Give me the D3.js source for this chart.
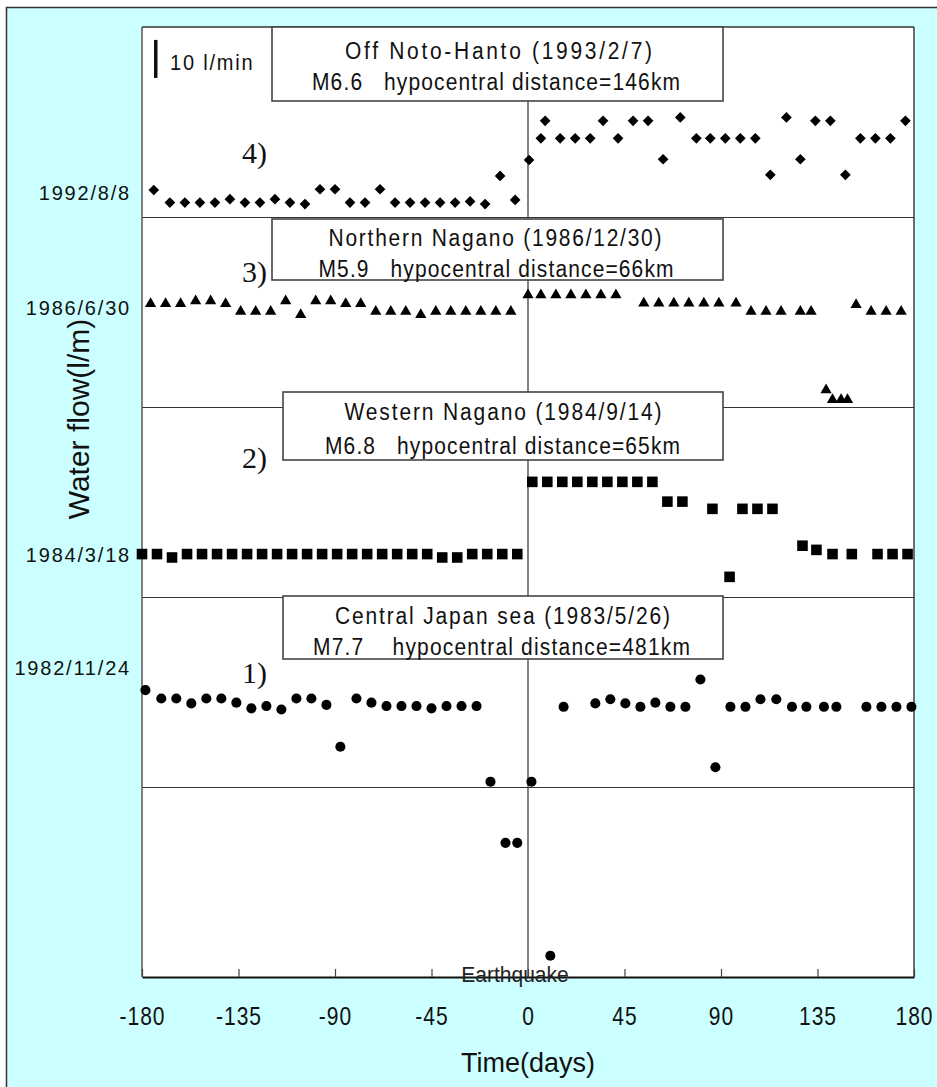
<!DOCTYPE html>
<html><head><meta charset="utf-8">
<script src="https://cdn.jsdelivr.net/npm/d3@7"></script>
<style>body{margin:0;background:#fff} svg{display:block}</style>
</head><body><svg id="c" width="937" height="1087"></svg>
<script>
// ---------- data ----------
const xTicks = [-180, -135, -90, -45, 0, 45, 90, 135, 180];
const gridValues = [50, 100, 150, 200];
const dateLabels = ["1992/8/8", "1986/6/30", "1984/3/18", "1982/11/24"];
const dateLevels = [206.4, 176.3, 111.3, 81.4];
const panelNames = ["4)", "3)", "2)", "1)"];
const quakeTitles = ["Off Noto-Hanto (1993/2/7)", "Northern Nagano (1986/12/30)", "Western Nagano (1984/9/14)", "Central Japan sea (1983/5/26)"];
const quakeDetails = ["M6.6   hypocentral distance=146km", "M5.9   hypocentral distance=66km", "M6.8   hypocentral distance=65km", "M7.7    hypocentral distance=481km"];
const scaleBarValue = 10;
const scaleBarTop = 246.6;

// 4) Off Noto-Hanto (diamonds)
const days4 = [-174.5,-167,-160,-153,-146,-139,-132,-125,-118,-111,-104,-97,-90,-83,-76,-69,-62,-55,-48,-41,-34,-27,-20,-13,-6,
  0.5,6,8,15,22,29,35,42,49,56,63,71,78.5,85,92,99,106,113,120.5,127,134,141,148,155,162,169,176];
const flow4 = [207.1,203.8,203.8,203.8,203.8,204.7,203.8,203.8,204.7,203.8,203.4,207.3,207.3,203.8,203.8,207.3,203.8,203.8,203.8,203.8,203.8,204.1,203.4,210.8,204.5,
  215.0,220.7,225.3,220.7,220.7,220.7,225.3,220.7,225.3,225.3,215.2,226.2,220.7,220.7,220.7,220.7,220.7,211.1,226.2,215.2,225.3,225.3,211.1,220.7,220.7,220.7,225.3];

// 3) Northern Nagano (triangles)
const days3 = [-176,-169,-162,-155,-148,-141,-134,-127,-120,-113,-106,-99,-92,-85,-78,-71,-64,-57,-50,-43,-36,-29,-22,-15,-8,
  0,6,13,20,27,34,41,54,61,68,75,82,89,97,104,111,118,127,132,139,142,146,149,153,160,167,174];
const flow3 = [177.2,177.2,177.2,177.9,177.9,177.2,175.1,175.1,175.1,177.9,174.3,177.9,177.9,177.2,177.2,175.1,175.1,175.1,174.3,175.1,175.1,175.1,175.1,175.1,175.1,
  179.5,179.5,179.5,179.5,179.5,179.5,179.5,177.3,177.3,177.3,177.3,177.3,177.3,177.3,175.1,175.1,175.1,175.1,175.1,154.5,151.9,151.9,151.9,176.9,175.1,175.1,175.1];

// 2) Western Nagano (squares)
const days2 = [-180,-173,-166,-159,-152,-145,-138,-131,-124,-117,-110,-103,-96,-89,-82,-75,-68,-61,-54,-47,-40,-33,-26,-19,-12,-5,
  2,9,16,23,30,37,44,51,58,65,72,86,94,100,107,114,128,134.5,142,151,163,170,177];
const flow2 = [111.3,111.3,110.4,111.3,111.3,111.3,111.3,111.3,111.3,111.3,111.3,111.3,111.3,111.3,111.3,111.3,111.3,111.3,111.3,111.3,110.4,110.4,111.3,111.3,111.3,111.3,
  130.3,130.3,130.3,130.3,130.3,130.3,130.3,130.3,130.3,125.1,125.1,123.2,105.3,123.2,123.2,123.2,113.5,112.4,111.3,111.3,111.3,111.3,111.3];

// 1) Central Japan sea (circles)
const days1 = [-178.4,-171,-164,-157,-150,-143,-136,-129,-122,-115,-108,-101,-94,-87.5,-80,-73,-66,-59,-52,-45,-38,-31,-24,-17.5,-10.5,-5,
  1.6,10.4,16.6,31.4,38.4,45.4,52.4,59.4,66.4,73.4,80.4,87.4,94.4,101.4,108.4,115.8,123.1,129.8,138,143.8,157.8,164.8,171.8,178.8];
const flow1 = [75.5,73.3,73.3,72.0,73.3,73.3,72.2,70.7,71.3,70.4,73.3,73.3,71.6,60.6,73.3,72.2,71.3,71.3,71.3,70.7,71.3,71.3,71.3,51.4,35.3,35.3,
  51.4,5.6,71.1,72.0,73.1,72.0,71.1,72.2,71.1,71.1,78.3,55.2,71.1,71.1,73.1,73.1,71.1,71.1,71.1,71.1,71.1,71.1,71.1,71.1];

// ---------- layout ----------
const svg = d3.select("#c");
const m = {l: 142, t: 27, r: 914, b: 977};
const x = d3.scaleLinear().domain([-180, 180]).range([m.l, m.r]);
const y = d3.scaleLinear().domain([0, 250]).range([m.b, m.t]);
const SANS = "'Liberation Sans', Arial, sans-serif";
const SERIF = "'Liberation Serif', 'Times New Roman', serif";

// text that is slightly stretched vertically, like the original rendering
function tallText(px, py, sy) {
  return svg.append("text").attr("transform", `translate(${px},${py}) scale(1,${sy})`);
}

svg.append("rect").attr("width", 937).attr("height", 1087).attr("fill", "#fff");
svg.append("rect").attr("x", 6).attr("y", 7).attr("width", 931).attr("height", 1080).attr("fill", "#ccffff");
svg.append("line").attr("x1", 6).attr("x2", 937).attr("y1", 7.5).attr("y2", 7.5).attr("stroke", "#333").attr("stroke-width", 1.5);
svg.append("line").attr("x1", 6.5).attr("x2", 6.5).attr("y1", 7).attr("y2", 1087).attr("stroke", "#333").attr("stroke-width", 1.5);

// plot area
svg.append("rect").attr("x", m.l).attr("y", m.t).attr("width", m.r - m.l).attr("height", m.b - m.t).attr("fill", "#fff");

// gridlines
svg.append("g").attr("transform", `translate(${m.l},0)`)
  .call(d3.axisLeft(y).tickValues(gridValues).tickSize(-(m.r - m.l)).tickFormat(""))
  .call(g => g.select(".domain").remove())
  .call(g => g.selectAll(".tick line").attr("stroke", "#333").attr("stroke-width", 1));

// date labels on y
svg.append("g").attr("transform", `translate(${m.l},0)`)
  .call(d3.axisLeft(y).tickValues(dateLevels).tickFormat((d, i) => dateLabels[i]).tickSize(0).tickPadding(11))
  .call(g => g.select(".domain").remove())
  .call(g => g.selectAll(".tick text").attr("font-family", SANS).attr("font-size", 20)
    .attr("letter-spacing", "1.8px").attr("fill", "#111").attr("dy", "0.36em"));

// earthquake line
svg.append("line").attr("x1", x(0)).attr("x2", x(0)).attr("y1", y(250)).attr("y2", y(0))
  .attr("stroke", "#404040").attr("stroke-width", 1.3);

// frame lines of plot
svg.append("line").attr("x1", m.l).attr("x2", m.r).attr("y1", m.t).attr("y2", m.t).attr("stroke", "#333").attr("stroke-width", 1.3);
svg.append("line").attr("x1", m.l).attr("x2", m.l).attr("y1", m.t).attr("y2", m.b).attr("stroke", "#555").attr("stroke-width", 1.5);
svg.append("line").attr("x1", m.r).attr("x2", m.r).attr("y1", m.t).attr("y2", m.b).attr("stroke", "#222").attr("stroke-width", 1.3);

// x axis
svg.append("g").attr("transform", `translate(0,${m.b})`)
  .call(d3.axisBottom(x).tickValues(xTicks).tickSizeInner(-8).tickSizeOuter(0).tickFormat(d => String(d)))
  .call(g => g.select(".domain").attr("stroke", "#111").attr("stroke-width", 2))
  .call(g => g.selectAll(".tick line").attr("stroke", "#444").attr("stroke-width", 1.2))
  .call(g => g.selectAll(".tick text").attr("font-family", SANS).attr("font-size", 21)
    .attr("letter-spacing", "1px").attr("fill", "#111").attr("y", 0).attr("dy", 0)
    .attr("transform", "translate(0,48) scale(1,1.22)"));

// label boxes
const boxes = [
  {x1: 272, y1: 27, x2: 723, y2: 101, b1: 58.5, b2: 90, c1: 498.5, w1: 307, c2: 496, w2: 368},
  {x1: 272, y1: 219, x2: 723, y2: 280, b1: 246, b2: 276.5, c1: 495, w1: 333, c2: 496, w2: 355},
  {x1: 283, y1: 392, x2: 723, y2: 460, b1: 420, b2: 453.5, c1: 503, w1: 317, c2: 502.5, w2: 355},
  {x1: 283, y1: 596, x2: 723, y2: 659, b1: 623.5, b2: 655, c1: 502.5, w1: 335, c2: 501.5, w2: 377}
];
boxes.forEach((b, i) => {
  svg.append("rect").attr("x", b.x1).attr("y", b.y1).attr("width", b.x2 - b.x1).attr("height", b.y2 - b.y1)
    .attr("fill", "#fff").attr("stroke", "#444").attr("stroke-width", 1.6);
  tallText(b.c1, b.b1, 1.12).attr("text-anchor", "middle")
    .attr("font-family", SANS).attr("font-size", 21).attr("fill", "#111")
    .attr("textLength", b.w1).attr("lengthAdjust", "spacing").style("white-space", "pre")
    .text(quakeTitles[i]);
  tallText(b.c2, b.b2, 1.12).attr("text-anchor", "middle")
    .attr("font-family", SANS).attr("font-size", 21).attr("fill", "#111")
    .attr("textLength", b.w2).attr("lengthAdjust", "spacing").style("white-space", "pre")
    .text(quakeDetails[i]);
});

// panel numbers
const panelBaselines = [163, 281.5, 468, 683];
panelNames.forEach((t, i) => {
  svg.append("text").attr("x", 267).attr("y", panelBaselines[i]).attr("text-anchor", "end")
    .attr("font-family", SERIF).attr("font-size", 30).attr("fill", "#111").text(t);
});

// scale bar
svg.append("rect").attr("x", 154).attr("width", 3.5)
  .attr("y", y(scaleBarTop)).attr("height", y(scaleBarTop - scaleBarValue) - y(scaleBarTop)).attr("fill", "#111");
tallText(170, 70, 1.08).attr("font-family", SANS).attr("font-size", 20)
  .attr("letter-spacing", "1.8px").attr("fill", "#111").text("10 l/min");

// markers
const diamondType = d3.symbolDiamond2 || {
  draw(ctx, size) { const r = Math.sqrt(size) * 0.62625; ctx.moveTo(0, -r); ctx.lineTo(r, 0); ctx.lineTo(0, r); ctx.lineTo(-r, 0); ctx.closePath(); }
};
const series = [
  {days: days4, flow: flow4, type: diamondType, size: 73},
  {days: days3, flow: flow3, type: d3.symbolTriangle, size: 55},
  {days: days2, flow: flow2, type: d3.symbolSquare, size: 112},
  {days: days1, flow: flow1, type: d3.symbolCircle, size: 80}
];
series.forEach(s => {
  svg.append("g").selectAll("path").data(s.days.map((d, i) => [d, s.flow[i]])).join("path")
    .attr("transform", d => `translate(${x(d[0])},${y(d[1])})`)
    .attr("d", d3.symbol().type(s.type).size(s.size))
    .attr("fill", "#000");
});

// Earthquake label
tallText(515, 982, 1.05).attr("text-anchor", "middle")
  .attr("font-family", SANS).attr("font-size", 21).attr("fill", "#222").text("Earthquake");

// axis titles
svg.append("text").attr("x", x(0)).attr("y", 1072).attr("text-anchor", "middle")
  .attr("font-family", SANS).attr("font-size", 27).attr("fill", "#111").text("Time(days)");
svg.append("text").attr("transform", "translate(88.5,419) rotate(-90)").attr("text-anchor", "middle")
  .attr("font-family", SANS).attr("font-size", 30).attr("fill", "#111").text("Water flow(l/m)");
</script></body></html>
